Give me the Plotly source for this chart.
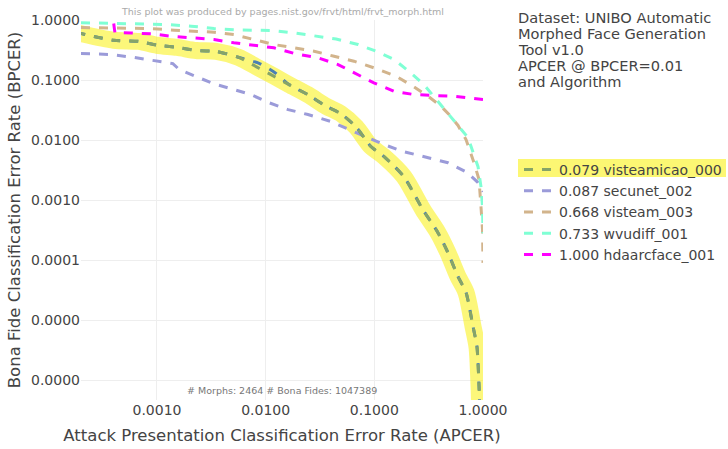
import plotly.graph_objects as go

# ---- data ----
names = ["0.079 visteamicao_000", "0.087 secunet_002", "0.668 visteam_003",
         "0.733 wvudiff_001", "1.000 hdaarcface_001"]

green_x = [1.8e-4, 4.0e-4, 6.8e-4, 1.0e-3, 1.53e-3, 2.3e-3, 3.5e-3, 5.6e-3, 8.7e-3, 0.0122,
           0.0164, 0.0245, 0.036, 0.049, 0.068, 0.093, 0.123, 0.187, 0.28, 0.385, 0.476,
           0.589, 0.698, 0.81, 0.88, 0.92, 0.93]
green_y = [0.62, 0.46, 0.44, 0.38, 0.35, 0.31, 0.30, 0.24, 0.157, 0.113,
           0.084, 0.057, 0.0366, 0.0277, 0.0165, 0.0078, 0.0053, 0.00246, 6.9e-4, 2.87e-4, 1.33e-4,
           5.3e-5, 2.9e-5, 7.8e-6, 3.6e-6, 7.8e-7, 4.0e-7]

blue_y = [0.62, 0.46, 0.44, 0.38, 0.35, 0.31, 0.30, 0.24, 0.19, 0.132,
          0.084, 0.057, 0.0366, 0.0277, 0.0165, 0.0078, 0.0053, 0.00246, 6.9e-4, 2.87e-4, 1.33e-4,
          5.3e-5, 2.9e-5, 7.8e-6, 3.6e-6, 7.8e-7, 4.0e-7]

purple_x = [2.0e-4, 3.8e-4, 6.2e-4, 1.02e-3, 1.4e-3, 1.6e-3, 2.39e-3, 3.28e-3, 5.1e-3, 7.3e-3,
            0.0107, 0.0161, 0.0245, 0.04, 0.068, 0.123, 0.187, 0.305, 0.476, 0.71, 0.90, 1.0]
purple_y = [0.277, 0.266, 0.237, 0.203, 0.188, 0.15, 0.109, 0.0874, 0.0695, 0.0573,
            0.042, 0.0322, 0.0266, 0.0203, 0.0133, 0.0084, 0.0064, 0.0051, 0.0042, 0.0029, 0.00196, 0.00138]

tan_x = [2.0e-4, 5.2e-4, 8.8e-4, 1.44e-3, 2.19e-3, 3.35e-3, 5.1e-3, 7.8e-3, 0.0119, 0.0182,
         0.0279, 0.0426, 0.065, 0.099, 0.158, 0.227, 0.312, 0.411, 0.487, 0.589, 0.698,
         0.826, 0.919, 0.958, 0.99, 1.0]
tan_y = [0.75, 0.72, 0.72, 0.676, 0.65, 0.627, 0.573, 0.473, 0.39, 0.344,
         0.302, 0.249, 0.206, 0.16, 0.116, 0.0788, 0.0537, 0.0366, 0.0266, 0.0175, 0.0102,
         0.0042, 0.0022, 7.8e-4, 3.2e-4, 9.0e-5]

cyan_x = [2.0e-4, 4.7e-4, 1.26e-3, 2.06e-3, 3.35e-3, 5.6e-3, 0.0117, 0.0182, 0.0291, 0.0445,
          0.0708, 0.104, 0.152, 0.208, 0.286, 0.385, 0.487, 0.589, 0.728, 0.90, 0.958, 0.99, 1.0]
cyan_y = [0.90, 0.875, 0.84, 0.79, 0.72, 0.68, 0.668, 0.61, 0.537, 0.482,
          0.39, 0.302, 0.22, 0.14, 0.084, 0.0443, 0.0266, 0.0181, 0.011, 0.0036, 0.00168, 7.8e-4, 2.8e-4]

magenta_x = [4.0e-4, 4.1e-4, 5.8e-4, 8.8e-4, 1.35e-3, 2.19e-3, 3.35e-3, 5.1e-3, 7.8e-3, 0.0119,
             0.019, 0.0303, 0.0464, 0.065, 0.099, 0.152, 0.232, 0.354, 0.54, 0.826, 1.0]
magenta_y = [0.875, 0.62, 0.61, 0.589, 0.537, 0.505, 0.473, 0.417, 0.38, 0.344,
             0.273, 0.234, 0.181, 0.132, 0.0898, 0.065, 0.0573, 0.0552, 0.0537, 0.0492, 0.0473]

x_ticks = [1e-3, 1e-2, 1e-1, 1.0]
y_ticks = [1.0, 0.1, 0.01, 0.001, 0.0001, 0.00001, 0.000001]

info_lines = ["Dataset: UNIBO Automatic", "Morphed Face Generation", "Tool v1.0",
              "APCER @ BPCER=0.01", "and Algorithm"]

FONT = "DejaVu Sans"
PLOT_LEFT, PLOT_W = 81, 402
PLOT_TOP, PLOT_H = 20, 380  # pixels

fig = go.Figure()
# yellow highlight of the selected algorithm
fig.add_trace(go.Scatter(x=green_x, y=green_y, mode="lines", showlegend=False, hoverinfo="skip",
                         line=dict(color="rgba(250,240,0,0.52)", width=17, shape="spline",
                                   smoothing=0.8)))
fig.add_trace(go.Scatter(x=purple_x, y=purple_y, mode="lines", name=names[1], legendrank=2,
                         line=dict(color="#9b9bd9", width=3, dash="dash")))
fig.add_trace(go.Scatter(x=tan_x, y=tan_y, mode="lines", name=names[2], legendrank=3,
                         line=dict(color="#d2b48c", width=3, dash="dash")))
fig.add_trace(go.Scatter(x=cyan_x, y=cyan_y, mode="lines", name=names[3], legendrank=4,
                         line=dict(color="#7fffd4", width=3, dash="dash")))
fig.add_trace(go.Scatter(x=magenta_x, y=magenta_y, mode="lines", name=names[4], legendrank=5,
                         line=dict(color="#ff00ff", width=3, dash="dash")))
fig.add_trace(go.Scatter(x=green_x, y=blue_y, mode="lines", showlegend=False,
                         line=dict(color="#4a7fb5", width=3, dash="dash", shape="spline",
                                   smoothing=0.6)))
fig.add_trace(go.Scatter(x=green_x, y=green_y, mode="lines", name=names[0], legendrank=1,
                         line=dict(color="#86a468", width=3, dash="dash", shape="spline",
                                   smoothing=0.6)))


def py(pix):
    return (PLOT_TOP + PLOT_H - pix) / PLOT_H


def px(pix):
    return (pix - PLOT_LEFT) / PLOT_W


annotations = [
    dict(text=t, xref="paper", yref="paper", x=px(516), y=py(17 + 16 * i),
         xanchor="left", yanchor="middle", align="left", showarrow=False,
         font=dict(size=14.6, color="#444"))
    for i, t in enumerate(info_lines)
]
annotations += [
    dict(text="This plot was produced by pages.nist.gov/frvt/html/frvt_morph.html",
         xref="paper", yref="paper", x=0.5, y=py(12), xanchor="center", yanchor="middle",
         showarrow=False, font=dict(size=9.5, color="#aaa")),
    dict(text="# Morphs: 2464 # Bona Fides: 1047389",
         xref="paper", yref="paper", x=0.5, y=py(390), xanchor="center", yanchor="middle",
         showarrow=False, font=dict(size=9.5, color="#777")),
]

fig.update_layout(
    width=728, height=449,
    margin=dict(l=PLOT_LEFT, r=728 - PLOT_LEFT - PLOT_W, t=PLOT_TOP,
                b=449 - PLOT_TOP - PLOT_H, autoexpand=False),
    paper_bgcolor="white", plot_bgcolor="white",
    font=dict(family=FONT, size=14, color="#444"),
    legend=dict(x=px(519), y=py(154), xanchor="left", yanchor="top",
                bgcolor="rgba(0,0,0,0)", font=dict(size=14), tracegroupgap=0),
    xaxis=dict(type="log", range=[-3.699, 0.0], tickvals=x_ticks, tickformat=".4f",
               showgrid=True, gridcolor="#eee", zeroline=False, showline=False,
               automargin=False,
               title=dict(text="Attack Presentation Classification Error Rate (APCER)",
                          font=dict(size=16.5), standoff=12)),
    yaxis=dict(type="log", range=[-6.33, 0.0], tickvals=y_ticks, tickformat=".4f",
               showgrid=True, gridcolor="#eee", zeroline=False, showline=False,
               automargin=False,
               title=dict(text="Bona Fide Classification Error Rate (BPCER)",
                          font=dict(size=16.5), standoff=6)),
    shapes=[dict(type="rect", xref="paper", yref="paper", x0=px(518), x1=px(726),
                 y0=py(177), y1=py(159), fillcolor="rgba(250,240,0,0.55)", line=dict(width=0),
                 layer="below")],
    annotations=annotations,
)

fig.write_html("out.html")
